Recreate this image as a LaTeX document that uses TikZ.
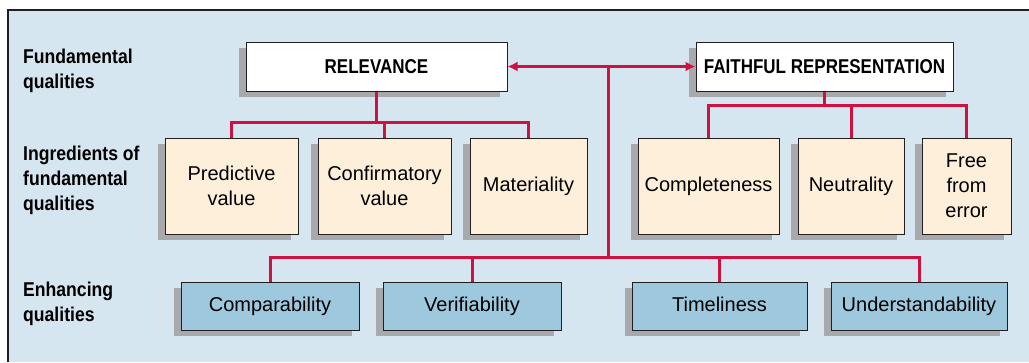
\documentclass[tikz,border=0pt]{standalone}
\usepackage{fontspec}
\setmainfont{Liberation Sans}
\newfontfamily\condfont[FakeStretch=0.85]{Liberation Sans}
\newfontfamily\labelfont[FakeStretch=0.88]{Liberation Sans}
\usetikzlibrary{arrows.meta,shadows}

\definecolor{panel}{RGB}{214,230,240}
\definecolor{cream}{RGB}{253,239,218}
\definecolor{enhblue}{RGB}{158,200,222}
\definecolor{linkred}{RGB}{206,17,65}
\definecolor{shade}{RGB}{167,169,172}
\definecolor{boxline}{RGB}{35,31,32}

\tikzset{
  box/.style={draw=boxline, line width=1bp, inner sep=0pt, align=center,
    drop shadow={shadow xshift=-7.5bp, shadow yshift=-5.5bp, fill=shade, opacity=1}},
  topbox/.style={box, fill=white, minimum height=49bp,
    font=\condfont\bfseries\fontsize{20bp}{25bp}\selectfont},
  ingr/.style={box, fill=cream, minimum height=96bp,
    font=\fontsize{20bp}{25bp}\selectfont},
  enh/.style={box, fill=enhblue, minimum height=48bp, text height=14.5bp, text depth=4.5bp,
    font=\fontsize{20bp}{25bp}\selectfont},
  rowlabel/.style={anchor=west, align=left, inner sep=0pt,
    font=\labelfont\bfseries\fontsize{20bp}{25bp}\selectfont},
  link/.style={draw=linkred, line width=3bp},
}

\begin{document}
\begin{tikzpicture}[x=1bp,y=-1bp]
  \useasboundingbox (0,0) rectangle (1029,362);

  %panel
  \fill[panel] (8,10) rectangle (1029,362);
  \draw[boxline, line width=1.3bp] (1029,10) -- (8,10) -- (8,362);

  %row labels
  \node[rowlabel] (lfund) at (23,71) {Fundamental\\qualities};
  \node[rowlabel] (lingr) at (23,180.5) {Ingredients of\\fundamental\\qualities};
  \node[rowlabel] (lenh) at (23,304) {Enhancing\\qualities};

  %fundamental qualities
  \node[topbox, minimum width=261bp] (rel) at (376.5,66.5) {RELEVANCE};
  \node[topbox, minimum width=257bp] (faith) at (824.5,66.5) {FAITHFUL REPRESENTATION};

  %ingredients
  \node[ingr, minimum width=133bp] (pred) at (231.5,186) {Predictive\\value};
  \node[ingr, minimum width=133bp] (conf) at (384.5,186) {Confirmatory\\value};
  \node[ingr, minimum width=117bp] (mat) at (528.5,186) {Materiality};
  \node[ingr, minimum width=141bp] (compl) at (708.5,186) {Completeness};
  \node[ingr, minimum width=106bp] (neut) at (851,186) {Neutrality};
  \node[ingr, minimum width=89bp] (free) at (966.5,186) {Free\\from\\error};

  %enhancing qualities
  \node[enh, minimum width=178bp] (comp) at (270,306) {Comparability};
  \node[enh, minimum width=178bp] (verif) at (472,306) {Verifiability};
  \node[enh, minimum width=175bp] (time) at (719.5,306) {Timeliness};
  \node[enh, minimum width=176bp] (under) at (919,306) {Understandability};

  %links relevance
  \draw[link] (rel.south) -- ++(0,32);
  \draw[link] (pred.north) -- ++(0,-15) -| (mat.north);
  \draw[link] (conf.north) -- ++(0,-15);

  %links faithful representation
  \draw[link] (faith.south) -- ++(0,15);
  \draw[link] (compl.north) -- ++(0,-32) -| (free.north);
  \draw[link] (neut.north) -- ++(0,-32);

  %double arrow and hub
  \draw[link, {Latex[length=10bp,width=10bp]}-{Latex[length=10bp,width=10bp]}] (rel.east) -- (faith.west);
  \coordinate (hub) at (608,66.5);
  \draw[link] (hub) -- ++(0,191.5);
  \draw[link] (comp.north) -- ++(0,-24) -| (under.north);
  \draw[link] (verif.north) -- ++(0,-24);
  \draw[link] (time.north) -- ++(0,-24);

\end{tikzpicture}
\end{document}
